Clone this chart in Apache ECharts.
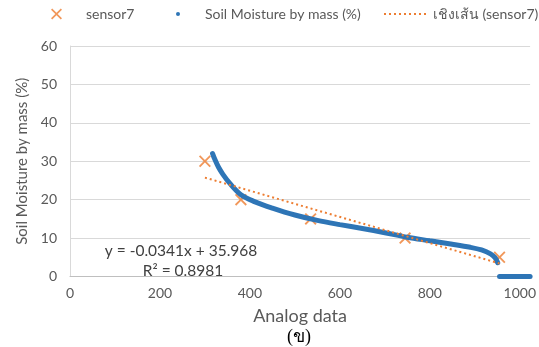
<!DOCTYPE html>
<html>
<head>
<meta charset="utf-8">
<script src="https://cdn.jsdelivr.net/npm/echarts@6/dist/echarts.min.js"></script>
<style>
  html, body { margin: 0; padding: 0; background: #fff; }
  #soilChart { width: 539px; height: 347px; }
</style>
</head>
<body>
<div id="soilChart"></div>
<script>
// จุดวัดจริงของ sensor7 (กากบาทสีส้ม)
const sensorAnalog = [300, 380, 535, 745, 955];
const sensorMoisture = [30, 20, 15, 10, 5];

// เส้นโค้ง Soil Moisture by mass (%)
const curveAnalog = [317, 322, 330, 340, 355, 380, 410, 450, 500, 550, 600, 650, 700, 750, 800, 850, 890, 915, 935, 945, 951];
const curveMoisture = [32.0, 30.5, 28.5, 26.6, 24.3, 21.3, 19.5, 17.8, 16.0, 14.6, 13.5, 12.5, 11.4, 10.2, 9.3, 8.4, 7.6, 6.9, 5.9, 4.9, 3.6];

// ช่วงปลายที่ค่าเป็น 0
const flatAnalog = [955, 1023];
const flatMoisture = [0, 0];

// เส้นแนวโน้ม y = -0.0341x + 35.968
const trendAnalog = [300, 955];
const trendMoisture = [25.74, 3.40];

// ป้ายแกน
const xTicks = [0, 200, 400, 600, 800, 1000];
const yTicks = [0, 10, 20, 30, 40, 50, 60];
const xMax = 1023;

const pairs = (xs, ys) => xs.map((x, i) => [x, ys[i]]);

const FONT = "Lato";
const GRAY = "#595959";
const ORANGE = "#ED7D31";
const BLUE = "#2E75B6";
const CROSS = "path://M1.1,0L5,3.9L8.9,0L10,1.1L6.1,5L10,8.9L8.9,10L5,6.1L1.1,10L0,8.9L3.9,5L0,1.1Z";

// ระยะห่างระหว่างไอคอนกับข้อความเหมือนใน Excel
const legendText = { fontFamily: FONT, fontSize: 14, color: GRAY, padding: [0, 0, 0, 20] };

let soilChart = echarts.init(document.getElementById("soilChart"));

let soilOption = {
  animation: false,
  grid: { left: 70, right: 8, top: 46, bottom: 70.5 },
  // แยก legend เป็น 3 ชุดเพื่อจัดตำแหน่งเหมือน Excel
  legend: [
    {
      data: [{ name: "sensor7", icon: CROSS }],
      left: 51, top: 7, padding: 0,
      itemWidth: 11, itemHeight: 11,
      textStyle: { ...legendText, padding: [0, 0, 0, 19] },
    },
    {
      data: [{ name: "Soil Moisture by mass (%)", icon: "circle" }],
      left: 176, top: 7, padding: 0,
      itemWidth: 4, itemHeight: 4,
      textStyle: legendText,
    },
    {
      data: ["เชิงเส้น (sensor7)"],
      left: 383, top: 7, padding: 0,
      itemWidth: 44, itemHeight: 10,
      textStyle: { fontFamily: FONT, fontSize: 14, color: GRAY },
    },
  ],
  xAxis: {
    type: "value",
    min: xTicks[0],
    max: xMax,
    interval: xTicks[1] - xTicks[0],
    name: "Analog data",
    nameLocation: "middle",
    nameGap: 31,
    nameTextStyle: { fontFamily: FONT, fontSize: 18, color: GRAY },
    axisLine: { show: true, lineStyle: { color: "#BFBFBF", width: 1 } },
    axisTick: { show: false },
    splitLine: { show: false },
    axisLabel: {
      showMaxLabel: false,
      margin: 10,
      fontFamily: FONT, fontSize: 14, color: GRAY,
      formatter: (v) => (xTicks.includes(v) ? String(v) : ""),
    },
  },
  yAxis: {
    type: "value",
    min: yTicks[0],
    max: yTicks[yTicks.length - 1],
    interval: yTicks[1] - yTicks[0],
    name: "Soil Moisture by mass (%)",
    nameLocation: "middle",
    nameGap: 37,
    nameTextStyle: { fontFamily: FONT, fontSize: 15, color: GRAY },
    axisLine: { show: true, lineStyle: { color: "#D9D9D9", width: 1 } },
    axisTick: { show: false },
    splitLine: { lineStyle: { color: "#D9D9D9", width: 1 } },
    axisLabel: { margin: 13, fontFamily: FONT, fontSize: 14, color: GRAY },
  },
  series: [
    {
      name: "sensor7",
      type: "scatter",
      symbol: CROSS,
      symbolSize: 12,
      itemStyle: { color: ORANGE },
      data: pairs(sensorAnalog, sensorMoisture),
      z: 2,
    },
    {
      name: "Soil Moisture by mass (%)",
      type: "line",
      smooth: 0.35,
      symbol: "none",
      clip: false,
      itemStyle: { color: BLUE },
      lineStyle: { color: BLUE, width: 5, cap: "round" },
      data: pairs(curveAnalog, curveMoisture),
      z: 3,
    },
    {
      name: "Soil Moisture by mass (%)",
      type: "line",
      symbol: "none",
      clip: false,
      itemStyle: { color: BLUE },
      lineStyle: { color: BLUE, width: 5, cap: "round" },
      data: pairs(flatAnalog, flatMoisture),
      z: 3,
    },
    {
      name: "เชิงเส้น (sensor7)",
      type: "line",
      symbol: "none",
      clip: false,
      itemStyle: { color: "rgba(0,0,0,0)" },
      lineStyle: { color: ORANGE, width: 2, type: [2, 3] },
      data: pairs(trendAnalog, trendMoisture),
      z: 4,
    },
  ],
  // สมการเส้นแนวโน้ม และคำบรรยายรูป
  graphic: [
    {
      type: "text", x: 181, y: 251,
      style: { text: "y = -0.0341x + 35.968", font: "15.5px " + FONT, fill: "#404040", align: "center", verticalAlign: "middle" },
    },
    {
      type: "text", x: 183, y: 271,
      style: { text: "R² = 0.8981", font: "15.5px " + FONT, fill: "#404040", align: "center", verticalAlign: "middle" },
    },
    {
      type: "text", x: 299, y: 337,
      style: { text: "(ข)", font: "18px 'Liberation Serif', serif", fill: "#000", align: "center", verticalAlign: "middle" },
    },
  ],
};

soilChart.setOption(soilOption);
</script>
</body>
</html>
